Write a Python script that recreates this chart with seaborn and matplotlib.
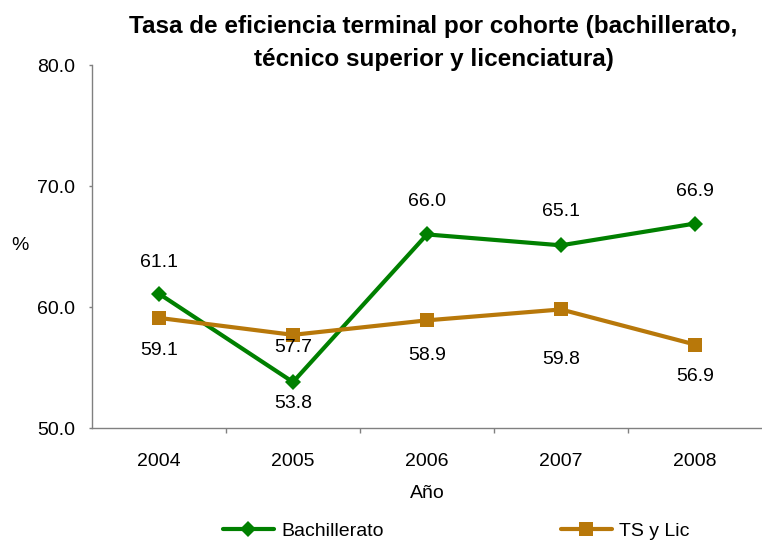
import matplotlib
matplotlib.use("Agg")
import matplotlib.pyplot as plt
import numpy as np
import pandas as pd
import seaborn as sns

years = [2004, 2005, 2006, 2007, 2008]
bachillerato = [61.1, 53.8, 66.0, 65.1, 66.9]
ts_lic = [59.1, 57.7, 58.9, 59.8, 56.9]
series_names = ["Bachillerato", "TS y Lic"]
y_ticks = [50.0, 60.0, 70.0, 80.0]

# label offsets in pixels (positive = down), as placed in the original
bach_offsets = [-31, 21, -33, -34, -32]
ts_offsets = [33, 13, 35, 50, 32]

GREEN = "#008000"
BROWN = "#B8780A"
AXIS_GRAY = "#808080"

df = pd.DataFrame({
	"Año": years * 2,
	"valor": bachillerato + ts_lic,
	"serie": [series_names[0]] * len(years) + [series_names[1]] * len(years),
})

sns.set_theme(style="white")
plt.rcParams["font.family"] = ["Liberation Sans", "DejaVu Sans"]
plt.rcParams["text.color"] = "black"
plt.rcParams["axes.labelcolor"] = "black"

fig = plt.figure(figsize=(7.62, 5.42), dpi=100)
ax = fig.add_axes([0.1207, 0.2103, 0.8793, 0.6697])

sns.lineplot(
	data=df, x="Año", y="valor", hue="serie", style="serie",
	palette={series_names[0]: GREEN, series_names[1]: BROWN},
	markers={series_names[0]: "D", series_names[1]: "s"},
	dashes=False, linewidth=3, markersize=9, markeredgewidth=0,
	ax=ax, legend=False,
)
ax.lines[0].set_markersize(8)
ax.lines[1].set_markersize(10)

# data labels
for yr, v, off in zip(years, bachillerato, bach_offsets):
	ax.annotate(f"{v:.1f}", (yr, v), xytext=(0, -off), textcoords="offset pixels",
		ha="center", va="center", fontsize=14, color="black")
for yr, v, off in zip(years, ts_lic, ts_offsets):
	ax.annotate(f"{v:.1f}", (yr, v), xytext=(0, -off), textcoords="offset pixels",
		ha="center", va="center", fontsize=14, color="black")

ax.set_xlim(years[0] - 0.5, years[-1] + 0.5)
ax.set_ylim(y_ticks[0], y_ticks[-1])
ax.set_yticks(y_ticks)
ax.set_yticklabels([f"{t:.1f}" for t in y_ticks], fontsize=14)
ax.set_xticks(years)
ax.set_xticklabels([str(y) for y in years], fontsize=14)
ax.set_xticks([y + 0.5 for y in years[:-1]], minor=True)
ax.tick_params(axis="x", which="major", length=0, pad=18, labelcolor="black")
ax.tick_params(axis="x", which="minor", length=3.6, width=1, color=AXIS_GRAY, direction="out", bottom=True)
ax.tick_params(axis="y", length=2.2, width=1, color=AXIS_GRAY, direction="out", left=True, pad=10,
	labelcolor="black")

for side in ["top", "right"]:
	ax.spines[side].set_visible(False)
for side in ["left", "bottom"]:
	ax.spines[side].set_color(AXIS_GRAY)
	ax.spines[side].set_linewidth(1)

ax.set_xlabel("Año", fontsize=14, labelpad=11)
ax.set_ylabel("%", fontsize=14, rotation=0, va="center", ha="center")
ax.yaxis.set_label_coords(-0.107, 0.504)

fig.suptitle("Tasa de eficiencia terminal por cohorte (bachillerato,\ntécnico superior y licenciatura)",
	x=0.569, y=0.972, va="top", fontsize=17.5, fontweight="bold", linespacing=1.55, color="black")

handles = [
	plt.Line2D([], [], color=GREEN, lw=3, marker="D", markersize=8, markeredgewidth=0),
	plt.Line2D([], [], color=BROWN, lw=3, marker="s", markersize=10, markeredgewidth=0),
]
fig.legend(handles, series_names, loc="center", bbox_to_anchor=(0.599, 0.02), ncol=2,
	frameon=False, fontsize=14, handlelength=2.6, handletextpad=0.4, columnspacing=9.1)

fig.savefig("out.png", dpi=100)
